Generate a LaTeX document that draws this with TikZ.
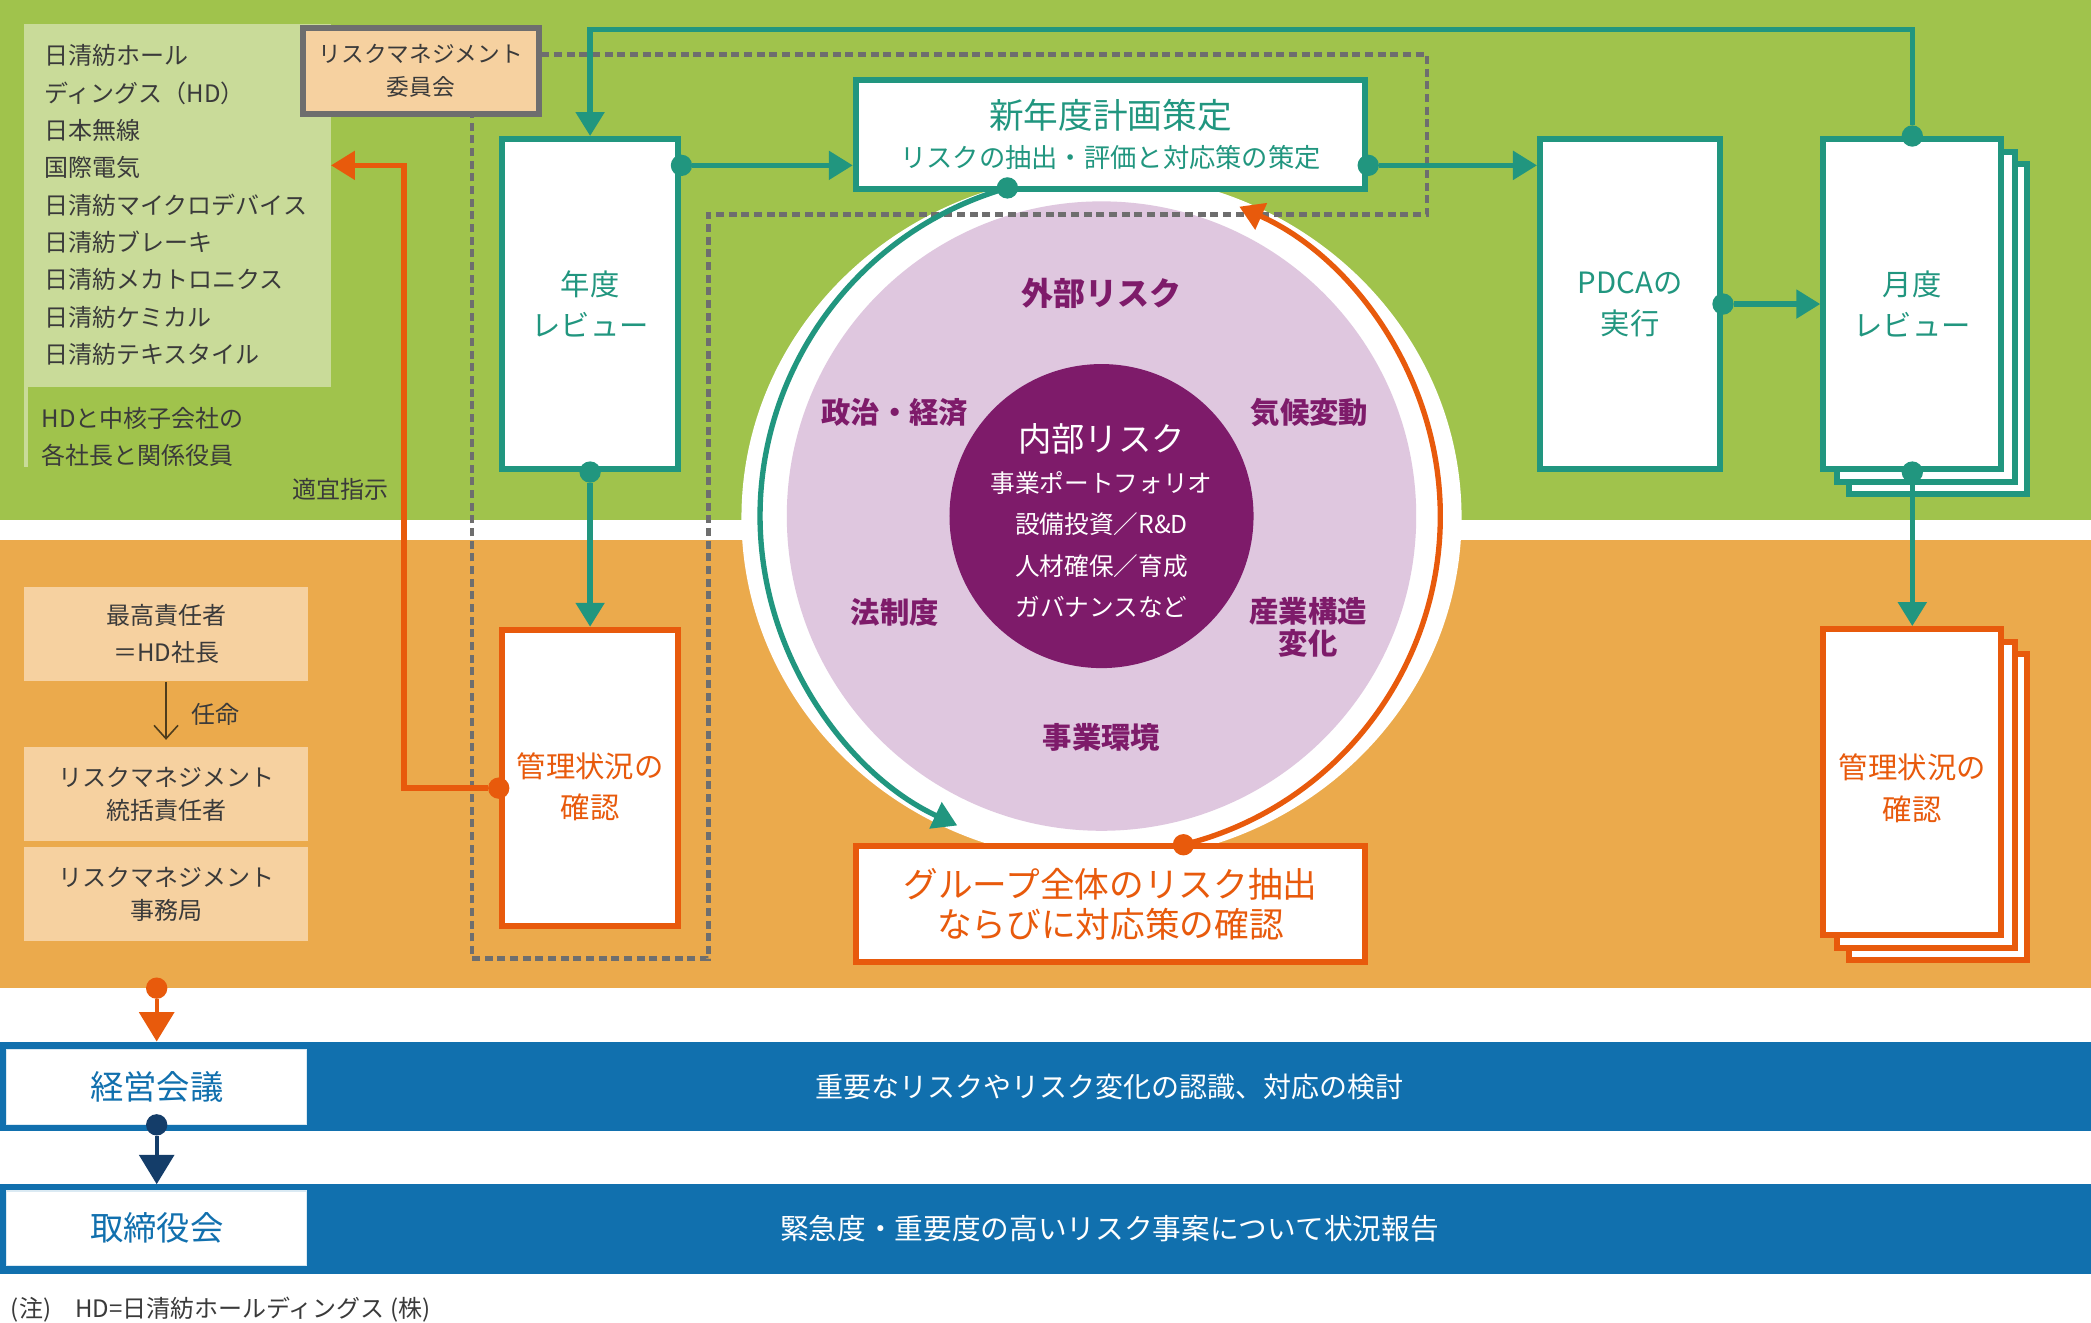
\documentclass[tikz,border=0pt]{standalone}
\usepackage{fontspec}
\setmainfont{Noto Sans CJK JP}
\usetikzlibrary{arrows.meta}

\definecolor{grassgreen}{HTML}{A0C34C}
\definecolor{palegreen}{HTML}{C9DB99}
\definecolor{bandorange}{HTML}{EBAA4C}
\definecolor{peach}{HTML}{F6D1A0}
\definecolor{riskteal}{HTML}{21967F}
\definecolor{riskorange}{HTML}{E85A0C}
\definecolor{deeppurple}{HTML}{7E1B6A}
\definecolor{palepink}{HTML}{DFC7DF}
\definecolor{barblue}{HTML}{1170AE}
\definecolor{navy}{HTML}{143D69}
\definecolor{dashgray}{HTML}{6E6E6E}
\definecolor{inkgray}{HTML}{3A3A3A}
\definecolor{brownline}{HTML}{4F3D1C}

\newcommand{\jfs}[2]{\fontsize{#1pt}{#2pt}\selectfont}

\begin{document}
\begin{tikzpicture}[x=1pt, y=-1pt,
  band/.style={minimum width=1568pt, inner sep=0pt, outer sep=0pt},
  tbox/.style={draw=riskteal, line width=4.5pt, fill=white, inner sep=0pt, align=center, text=riskteal, font=\jfs{22}{31}},
  obox/.style={tbox, draw=riskorange, text=riskorange},
  pbox/.style={fill=peach, minimum width=213pt, minimum height=71pt, inner sep=0pt, align=center, text=inkgray, font=\jfs{18}{25}},
  tdot/.style={circle, fill=riskteal, minimum size=16pt, inner sep=0pt},
  odot/.style={tdot, fill=riskorange},
  ndot/.style={tdot, fill=navy},
  tarrow/.style={draw=riskteal, line width=4pt, -{Triangle[length=18pt, width=21pt]}},
  oarrow/.style={tarrow, draw=riskorange},
  barrow/.style={line width=3pt, -{Triangle[length=22pt, width=26pt]}},
  dashbox/.style={draw=dashgray, line width=3.6pt, dash pattern=on 6pt off 3.5pt},
  sidelabel/.style={text=deeppurple, font=\bfseries\jfs{22}{23.5}, align=center},
  plain/.style={text=inkgray, inner sep=0pt, align=left, font=\jfs{18}{28}},
  whitebox/.style={fill=white, draw=white!85!barblue, line width=1pt, minimum width=225pt, minimum height=56pt, inner sep=0pt, text=barblue, font=\jfs{25}{27}}]

\useasboundingbox (0, 0) rectangle (1568, 992);
\fill[white] (0, 0) rectangle (1568, 992);

% Background bands
\node[band, fill=grassgreen, minimum height=390pt] (greenband) at (784, 195) {};
\node[band, fill=bandorange, minimum height=336pt] (orangeband) at (784, 573) {};

% Risk circle
\fill[white] (826, 388) ellipse [x radius=270pt, y radius=258pt];
\node[circle, fill=palepink, minimum size=472pt, inner sep=0pt] (extrisk) at (826, 387) {};
\node[circle, fill=deeppurple, minimum size=228pt, inner sep=0pt] (intrisk) at (826, 387) {};

\node[text=deeppurple, font=\bfseries\jfs{24}{26}] (extlabel) at (826, 220) {外部リスク};
\node[sidelabel] (polecon) at (671, 309) {政治・経済};
\node[sidelabel] (climate) at (982, 309) {気候変動};
\node[sidelabel] (law) at (671, 459) {法制度};
\node[sidelabel] (industry) at (981, 470.5) {産業構造\\変化};
\node[sidelabel] (bizenv) at (826, 553) {事業環境};

\node[text=white, font=\jfs{25}{27}] (intlabel) at (826, 329) {内部リスク};
\node[text=white, align=center, font=\jfs{18.5}{31}] (intlist) at (826, 408.5) {事業ポートフォリオ\\設備投資／R\&D\\人材確保／育成\\ガバナンスなど};

% Group companies
\node[fill=palegreen, minimum width=230pt, minimum height=272pt, inner sep=0pt] (grouplist) at (133, 154) {};
\node[plain, anchor=west] (groupnames) at (33, 153.7) {日清紡ホール\\ディングス（HD）\\日本無線\\国際電気\\日清紡マイクロデバイス\\日清紡ブレーキ\\日清紡メカトロニクス\\日清紡ケミカル\\日清紡テキスタイル};
\draw[palegreen, line width=3pt] (19.5, 290) -- (19.5, 350);
\node[plain, anchor=west] (officers) at (31, 327.6) {HDと中核子会社の\\各社長と関係役員};
\node[plain] (adhoc) at (255, 367) {適宜指示};

% Committee scope
\draw[dashbox] (406, 41) -- (1070, 41) -- (1070, 161) -- (531, 161) -- (531, 719) -- (354, 719) -- (354, 88);
\node[draw=dashgray, line width=4.4pt, fill=peach, minimum width=177pt, minimum height=65pt, inner sep=0pt, align=center, text=inkgray, font=\jfs{17}{24.5}] (cmte) at (315.5, 53.3) {リスクマネジメント\\委員会};

% Management roles
\node[pbox, font=\jfs{18}{27.7}] (chief) at (124.5, 475.5) {最高責任者\\＝HD社長};
\node[pbox] (rmhead) at (124.5, 595.5) {リスクマネジメント\\統括責任者};
\node[pbox] (rmoffice) at (124.5, 670.5) {リスクマネジメント\\事務局};
\draw[brownline, line width=1.2pt, shorten >=5pt, -{Straight Barb[length=10pt, width=18pt]}] (chief.south) -- node[right=15pt, text=inkgray, font=\jfs{18}{20}] {任命} (rmhead.north);

% Annual and monthly cycle
\coordinate (row) at (0, 124);
\coordinate (topline) at (0, 22);
\coordinate (leftrun) at (303, 0);

\node[tbox, minimum width=132.5pt, minimum height=247.5pt] (yrev) at (442.5, 228) {年度\\レビュー};
\node[obox, minimum width=132.5pt, minimum height=222.5pt] (lchk) at (442.5, 583.5) {\rule{0pt}{32pt}管理状況の\\確認};
\node[tbox, minimum width=382pt, minimum height=81.5pt, font=\jfs{26}{29}] (newplan) at (832.75, 101) {新年度計画策定\\{\jfs{19.7}{22}リスクの抽出・評価と対応策の策定}};
\node[tbox, minimum width=135pt, minimum height=247.5pt] (pdca) at (1222.3, 228) {PDCAの\\実行};

\foreach \o in {19,10}
  \node[tbox, minimum width=133.5pt, minimum height=247.5pt] at (1434+\o, 228+\o) {};
\node[tbox, minimum width=133.5pt, minimum height=247.5pt] (mrev) at (1434, 228) {月度\\レビュー};
\foreach \o in {19,10}
  \node[obox, minimum width=133.5pt, minimum height=229.5pt] at (1434+\o, 586.5+\o) {};
\node[obox, minimum width=133.5pt, minimum height=229.5pt] (rchk) at (1434, 586.5) {\rule{0pt}{28pt}管理状況の\\確認};

\node[obox, minimum width=382pt, minimum height=87.5pt, font=\jfs{26}{30}] (grpchk) at (832.75, 678) {グループ全体のリスク抽出\\ならびに対応策の確認};

% Connectors
\node[tdot] (yrevdot) at (yrev.east |- row) {};
\node[tdot] (plandot) at (newplan.east |- row) {};
\node[tdot] (pdcadot) at (pdca.east) {};
\node[tdot] (mrevtop) at (mrev.north) {};
\node[tdot] (mrevbot) at (mrev.south) {};
\node[tdot] (yrevbot) at (yrev.south) {};
\node[odot] (lchkdot) at (lchk.west |- 0, 591) {};

\draw[tarrow] (yrevdot) -- (newplan.west |- yrevdot);
\draw[tarrow] (plandot) -- (pdca.west |- plandot);
\draw[tarrow] (pdcadot) -- (mrev.west |- pdcadot);
\draw[tarrow] (mrevtop) -- (mrevtop |- topline) -| (yrev.north);
\draw[tarrow] (mrevbot) -- (rchk.north);
\draw[tarrow] (yrevbot) -- (lchk.north);
\draw[oarrow] (lchkdot) -| (leftrun |- row) -- (grouplist.east |- row);

% Arcs round the circle
\path (extrisk.center) ++(106:256pt) node[tdot] (tarcdot) {};
\draw[tarrow] (tarcdot.center) arc[start angle=106, end angle=245, radius=256pt];
\path (extrisk.center) ++(-76:254pt) node[odot] (oarcdot) {};
\draw[oarrow] (oarcdot.center) arc[start angle=-76, end angle=66, radius=254pt];

% Meetings
\node[band, fill=barblue, minimum height=67pt, anchor=north west] (mtgbar) at (0, 781) {};
\node[band, fill=barblue, minimum height=67pt, anchor=north west] (brdbar) at (0, 888) {};
\node[whitebox] (keiei) at (117.5, 815) {経営会議};
\node[whitebox] (board) at (117.5, 921) {取締役会};
\node[text=white, font=\jfs{21}{24}] (mtgtext) at (832, 815) {重要なリスクやリスク変化の認識、対応の検討};
\node[text=white, font=\jfs{21.5}{24}] (brdtext) at (832, 921) {緊急度・重要度の高いリスク事案について状況報告};

\node[odot] (banddot) at (orangeband.south -| keiei.north) {};
\draw[barrow, riskorange] (banddot) -- (mtgbar.north -| banddot);
\node[ndot] (keieidot) at (keiei.south) {};
\draw[barrow, navy] (keieidot) -- (brdbar.north -| keieidot);

% Note
\node[plain, anchor=west] (note) at (8, 982) {(注)\quad HD=日清紡ホールディングス (株)};

\end{tikzpicture}
\end{document}
